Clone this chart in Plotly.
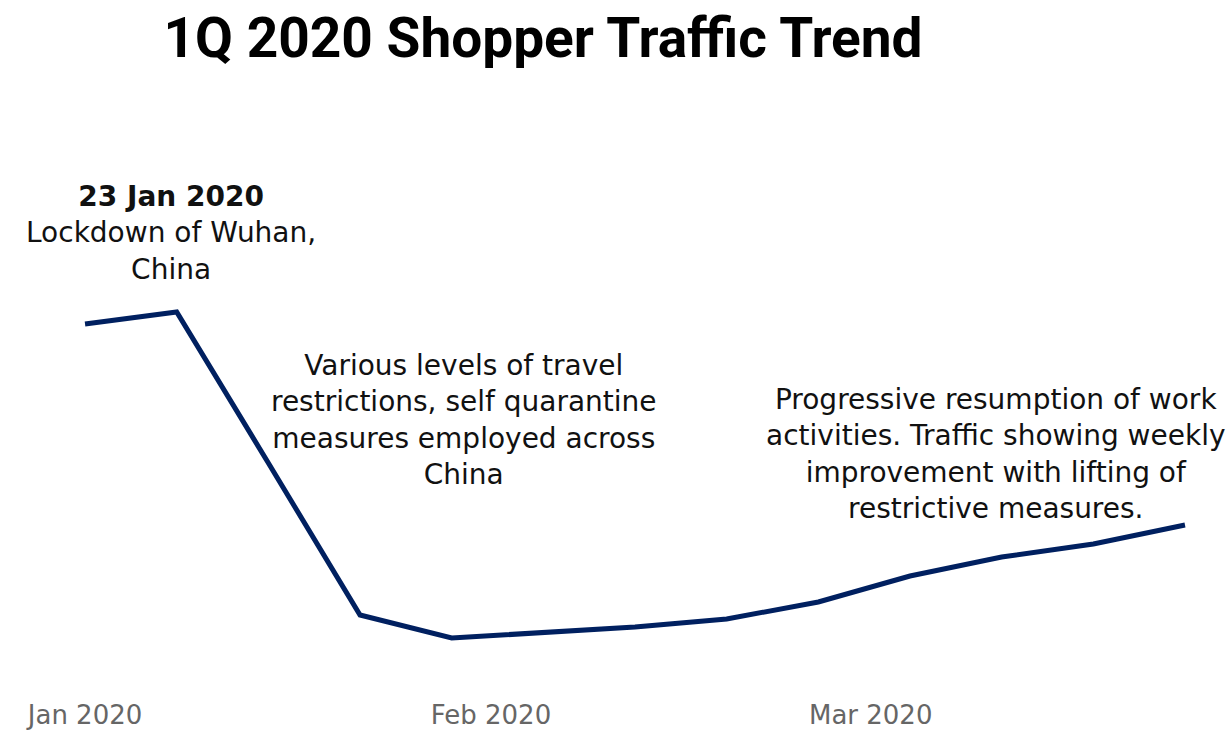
import plotly.graph_objects as go

# Weekly shopper traffic (index)
weeks = ["2020-01-01", "2020-01-08", "2020-01-15", "2020-01-22", "2020-01-29",
         "2020-02-05", "2020-02-12", "2020-02-19", "2020-02-26", "2020-03-04",
         "2020-03-11", "2020-03-18", "2020-03-25"]
traffic = [376, 388, 237, 85, 62, 67, 73, 81, 98, 124, 143, 156, 175]

title_text = "1Q 2020 Shopper Traffic Trend"
note_lockdown = "<b>23 Jan 2020</b><br>Lockdown of Wuhan,<br>China"
note_restrict = ("Various levels of travel<br>restrictions, self quarantine<br>"
                 "measures employed across<br>China")
note_resume = ("Progressive resumption of work<br>activities. Traffic showing weekly<br>"
               "improvement with lifting of<br>restrictive measures.")

W, H = 1230, 730
TOP, BOT = 100, 697  # plot area in pixels
Y_MIN, Y_MAX = 3, 600  # one unit per pixel; value 0 sits at y = 700 px


def px(x):
    return x / W


def py(y):
    return (BOT - y) / (BOT - TOP)


fig = go.Figure()
fig.add_trace(go.Scatter(
    x=weeks, y=traffic, mode="lines",
    line=dict(color="#002060", width=5),
    hoverinfo="skip",
))

text_font = dict(family="DejaVu Sans", size=28, color="#111111")

fig.update_layout(
    width=W, height=H,
    margin=dict(l=0, r=0, t=TOP, b=H - BOT),
    paper_bgcolor="white", plot_bgcolor="white",
    showlegend=False,
    title=dict(text="<b>" + title_text + "</b>", x=px(543), xanchor="center",
               y=1 - 38 / H, yanchor="middle",
               font=dict(family="Roboto", size=55, color="black")),
    xaxis=dict(type="date", range=["2019-12-25 12:10", "2020-03-28 10:30"],
               dtick="M1", tick0="2020-01-01", tickformat="%b %Y",
               showgrid=False, zeroline=False, showline=False, ticks="",
               tickfont=dict(family="DejaVu Sans", size=26, color="#666666"),
               ticklabelstandoff=0, automargin=False),
    yaxis=dict(range=[Y_MIN, Y_MAX], visible=False, automargin=False),
    annotations=[
        dict(text=note_lockdown, x=px(171), y=py(233), xref="paper", yref="paper",
             showarrow=False, align="center", font=text_font,
             xanchor="center", yanchor="middle"),
        dict(text=note_restrict, x=px(464), y=py(420), xref="paper", yref="paper",
             showarrow=False, align="center", font=text_font,
             xanchor="center", yanchor="middle"),
        dict(text=note_resume, x=px(996), y=py(454), xref="paper", yref="paper",
             showarrow=False, align="center", font=text_font,
             xanchor="center", yanchor="middle"),
    ],
)

fig.write_html("out.html")
